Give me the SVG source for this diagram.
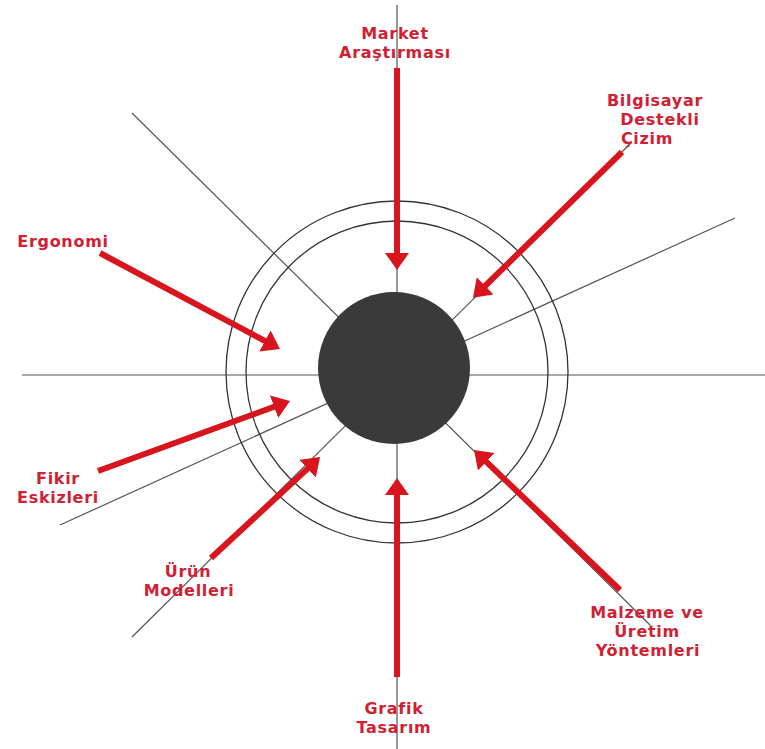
<svg xmlns="http://www.w3.org/2000/svg" width="765" height="749" viewBox="0 0 765 749">
<defs>
<style>
.ax{stroke:#555;stroke-width:1.2;fill:none}
.ring{stroke:#333;stroke-width:1.3;fill:none}
.arr{stroke:#d8141c;stroke-width:6;fill:none;marker-end:url(#ah)}
.lbl{font-family:"DejaVu Sans","Liberation Sans",sans-serif;font-weight:bold;font-size:16px;letter-spacing:0.7px;fill:#cf2133;text-anchor:middle}
</style>
<marker id="ah" markerUnits="userSpaceOnUse" markerWidth="20" markerHeight="26" refX="3" refY="12" orient="auto">
<path d="M0,0 L17,12 L0,24 Z" fill="#d8141c"/>
</marker>
</defs>
<rect width="765" height="749" fill="#fff"/>
<g id="axes">
<line class="ax" x1="22" y1="375" x2="765" y2="375"/>
<line class="ax" x1="397" y1="5" x2="397" y2="749"/>
<line class="ax" x1="132" y1="113" x2="650" y2="625"/>
<line class="ax" x1="60" y1="525" x2="735" y2="218"/>
<line class="ax" x1="132" y1="637" x2="632" y2="142"/>
</g>
<g id="rings">
<circle class="ring" cx="397" cy="372" r="171"/>
<circle class="ring" cx="397" cy="372" r="151"/>
</g>
<g id="core">
<circle cx="394" cy="368" r="76" fill="#3a3a3a"/>
</g>
<g id="connectors">
<line class="arr" x1="397" y1="68" x2="397" y2="256"/>
<line class="arr" x1="622" y1="152" x2="483" y2="288"/>
<line class="arr" x1="100" y1="253" x2="267.6" y2="342.4"/>
<line class="arr" x1="98" y1="471" x2="276.9" y2="405.8"/>
<line class="arr" x1="211" y1="558" x2="309.8" y2="466.6"/>
<line class="arr" x1="397" y1="677" x2="397" y2="492"/>
<line class="arr" x1="620" y1="590" x2="484.1" y2="459.7"/>
</g>
<g id="market"><text class="lbl" x="395" y="39">Market</text><text class="lbl" x="395" y="58">Araştırması</text></g>
<g id="bilgisayar"><text class="lbl" x="655" y="106">Bilgisayar</text><text class="lbl" x="660" y="125">Destekli</text><text class="lbl" x="647" y="144">Çizim</text></g>
<g id="ergonomi"><text class="lbl" x="63" y="247">Ergonomi</text></g>
<g id="fikir"><text class="lbl" x="58" y="484">Fikir</text><text class="lbl" x="58" y="503">Eskizleri</text></g>
<g id="urun"><text class="lbl" x="188" y="577">Ürün</text><text class="lbl" x="189" y="596">Modelleri</text></g>
<g id="malzeme"><text class="lbl" x="647" y="618">Malzeme ve</text><text class="lbl" x="647" y="637">Üretim</text><text class="lbl" x="648" y="656">Yöntemleri</text></g>
<g id="grafik"><text class="lbl" x="394" y="714">Grafik</text><text class="lbl" x="394" y="733">Tasarım</text></g>
</svg>
